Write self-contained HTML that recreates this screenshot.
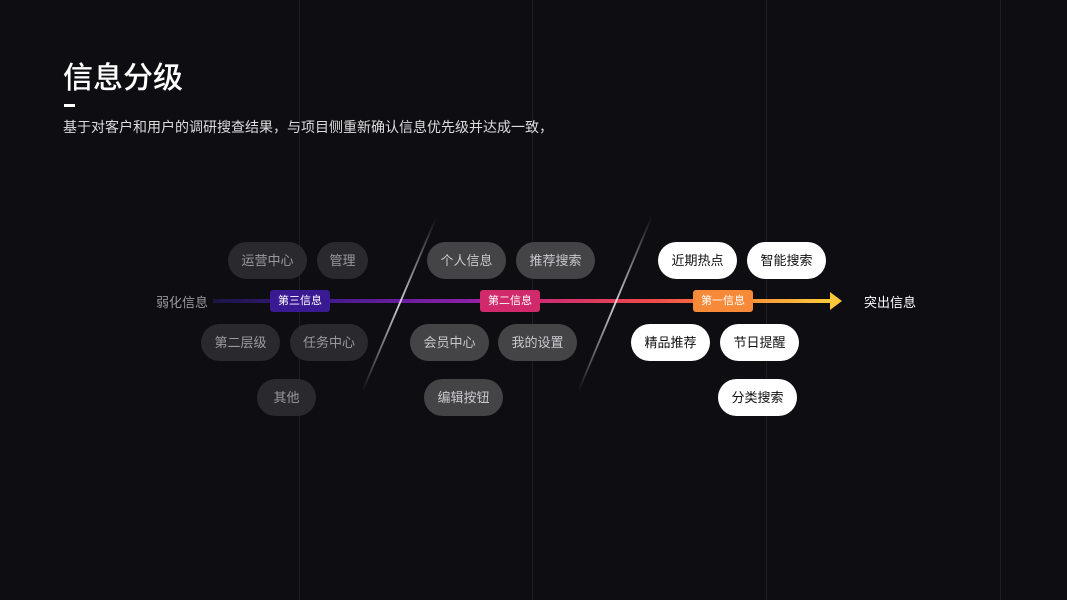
<!DOCTYPE html>
<html><head><meta charset="utf-8"><style>
body{margin:0;width:1067px;height:600px;background:#0e0d12;position:relative;overflow:hidden;font-family:"Liberation Sans","Noto Sans CJK SC",sans-serif;}
.v{position:absolute;top:0;width:1px;height:600px;background:#1f1e24;}
.p{position:absolute;height:37px;line-height:37px;border-radius:19px;text-align:center;font-size:13px;}
.g3{background:#2a292e;color:#9a999e;}
.g2{background:#444346;color:#c9c8cb;}
.g1{background:#fff;color:#111;}
.t{position:absolute;height:22px;line-height:22px;top:290px;border-radius:3px;color:#fff;font-size:11px;text-align:center;width:60px;}
</style></head><body>
<div class="v" style="left:299px"></div><div class="v" style="left:532px"></div><div class="v" style="left:766px"></div><div class="v" style="left:1000px"></div>
<div style="position:absolute;left:63px;top:53px;color:#fff;font-size:30px;font-weight:500;">信息分级</div>
<div style="position:absolute;left:64px;top:104px;width:11px;height:3px;background:#fff"></div>
<div style="position:absolute;left:63px;top:117px;color:#ddd;font-size:14px;">基于对客户和用户的调研搜查结果，与项目侧重新确认信息优先级并达成一致，</div>
<svg style="position:absolute;left:0;top:0" width="1067" height="600">
<defs>
<linearGradient id="a" x1="213" x2="842" gradientUnits="userSpaceOnUse">
<stop offset="0" stop-color="#1a1540"/><stop offset="0.15" stop-color="#3a1a8a"/><stop offset="0.4" stop-color="#8a1fa8"/><stop offset="0.5" stop-color="#c8287a"/><stop offset="0.7" stop-color="#f04a4a"/><stop offset="0.85" stop-color="#f9923a"/><stop offset="1" stop-color="#fdd13a"/></linearGradient>
<linearGradient id="d" x1="0" y1="0" x2="0" y2="1"><stop offset="0" stop-color="#fff" stop-opacity="0"/><stop offset="0.5" stop-color="#fff" stop-opacity="0.8"/><stop offset="1" stop-color="#fff" stop-opacity="0"/></linearGradient>
</defs>
<rect x="213" y="299" width="618" height="4" fill="url(#a)"/>
<polygon points="830,292 842,301 830,310" fill="#fdc93a"/>
<polygon points="435,218 437,218 363,392 361,392" fill="url(#d)"/>
<polygon points="651,216 653,216 579,392 577,392" fill="url(#d)"/>
</svg>
<div style="position:absolute;left:156px;top:292px;color:#9a999e;font-size:13px;">弱化信息</div>
<div style="position:absolute;left:864px;top:292px;color:#fff;font-size:13px;">突出信息</div>
<div class="t" style="left:270px;background:#3a1a92">第三信息</div>
<div class="t" style="left:480px;background:#d02a6a">第二信息</div>
<div class="t" style="left:693px;background:#f78a38">第一信息</div>
<div class="p g3" style="left:228px;top:242px;width:79px">运营中心</div>
<div class="p g3" style="left:317px;top:242px;width:51px">管理</div>
<div class="p g3" style="left:201px;top:324px;width:79px">第二层级</div>
<div class="p g3" style="left:290px;top:324px;width:78px">任务中心</div>
<div class="p g3" style="left:257px;top:379px;width:59px">其他</div>
<div class="p g2" style="left:427px;top:242px;width:79px">个人信息</div>
<div class="p g2" style="left:516px;top:242px;width:79px">推荐搜索</div>
<div class="p g2" style="left:410px;top:324px;width:79px">会员中心</div>
<div class="p g2" style="left:498px;top:324px;width:79px">我的设置</div>
<div class="p g2" style="left:424px;top:379px;width:79px">编辑按钮</div>
<div class="p g1" style="left:658px;top:242px;width:79px">近期热点</div>
<div class="p g1" style="left:747px;top:242px;width:79px">智能搜索</div>
<div class="p g1" style="left:631px;top:324px;width:79px">精品推荐</div>
<div class="p g1" style="left:720px;top:324px;width:79px">节日提醒</div>
<div class="p g1" style="left:718px;top:379px;width:79px">分类搜索</div>
</body></html>
